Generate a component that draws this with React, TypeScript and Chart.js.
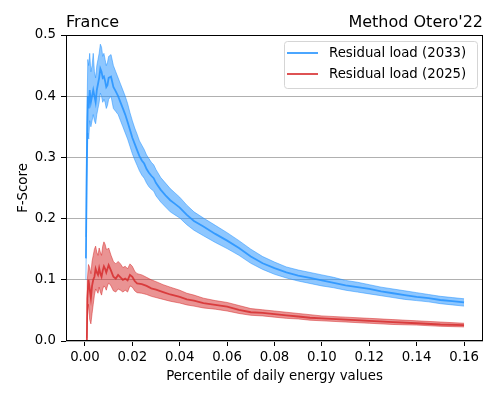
import React, { useEffect, useRef } from "react";
import { Chart, registerables } from "chart.js";

Chart.register(...registerables);

// ---------- data ----------
const blueX = [
  0.0004, 0.0008, 0.0012, 0.0016, 0.002, 0.0025, 0.003, 0.0035, 0.004, 0.0045,
  0.005, 0.0055, 0.006, 0.0065, 0.007, 0.0075, 0.008, 0.0085, 0.009, 0.0095,
  0.01, 0.011, 0.012, 0.013, 0.014, 0.015, 0.016, 0.017, 0.018, 0.019,
  0.02, 0.021, 0.022, 0.023, 0.024, 0.025, 0.026, 0.027, 0.028, 0.029,
  0.03, 0.032, 0.034, 0.036, 0.038, 0.04, 0.043, 0.046, 0.05, 0.055,
  0.06, 0.065, 0.07, 0.075, 0.08, 0.085, 0.09, 0.095, 0.1, 0.105,
  0.11, 0.115, 0.12, 0.125, 0.13, 0.135, 0.14, 0.145, 0.15, 0.155, 0.16,
];
const blueMean = [
  0.135, 0.3, 0.4, 0.38, 0.41, 0.39, 0.4, 0.41, 0.4, 0.39,
  0.41, 0.42, 0.43, 0.445, 0.44, 0.43, 0.432, 0.425, 0.415, 0.418,
  0.43, 0.432, 0.415, 0.408, 0.4, 0.39, 0.38, 0.37, 0.358, 0.345,
  0.332, 0.322, 0.312, 0.302, 0.295, 0.29, 0.281, 0.275, 0.27, 0.266,
  0.258, 0.247, 0.238, 0.23, 0.224, 0.218, 0.206, 0.196, 0.187, 0.175,
  0.164, 0.152, 0.138, 0.127, 0.119, 0.112, 0.107, 0.103, 0.099, 0.095,
  0.091, 0.088, 0.085, 0.081, 0.078, 0.075, 0.072, 0.07, 0.067, 0.065, 0.063,
];
const blueLo = [
  0.1, 0.25, 0.34, 0.33, 0.36, 0.35, 0.36, 0.37, 0.36, 0.355,
  0.37, 0.38, 0.39, 0.405, 0.4, 0.39, 0.395, 0.39, 0.38, 0.385,
  0.395, 0.4, 0.38, 0.375, 0.37, 0.36, 0.35, 0.34, 0.33, 0.318,
  0.306, 0.296, 0.287, 0.278, 0.271, 0.266, 0.258, 0.252, 0.248, 0.245,
  0.237, 0.227, 0.219, 0.211, 0.206, 0.201, 0.19, 0.181, 0.172, 0.161,
  0.151, 0.14, 0.127, 0.117, 0.109, 0.103, 0.098, 0.094, 0.09, 0.087,
  0.083, 0.08, 0.077, 0.074, 0.071, 0.068, 0.066, 0.064, 0.061, 0.059, 0.057,
];
const blueHi = [
  0.17, 0.36, 0.46, 0.45, 0.47, 0.44, 0.45, 0.47, 0.44, 0.43,
  0.45, 0.46, 0.47, 0.485, 0.48, 0.465, 0.47, 0.46, 0.45, 0.455,
  0.465, 0.468, 0.45, 0.44, 0.43, 0.42, 0.41, 0.4, 0.388, 0.373,
  0.36, 0.348, 0.338, 0.327, 0.32, 0.313, 0.304, 0.298, 0.292, 0.288,
  0.28, 0.267, 0.258, 0.249, 0.242, 0.235, 0.222, 0.211, 0.201, 0.189,
  0.177, 0.164, 0.15, 0.138, 0.129, 0.121, 0.116, 0.112, 0.108, 0.104,
  0.099, 0.096, 0.092, 0.088, 0.085, 0.082, 0.079, 0.076, 0.073, 0.071, 0.069,
];

const redX = [
  0.0008, 0.001, 0.0015, 0.002, 0.0025, 0.003, 0.0035, 0.004, 0.0045, 0.005,
  0.0055, 0.006, 0.0065, 0.007, 0.0075, 0.008, 0.0085, 0.009, 0.0095, 0.01,
  0.011, 0.012, 0.013, 0.014, 0.015, 0.016, 0.017, 0.018, 0.019, 0.02,
  0.021, 0.022, 0.024, 0.026, 0.028, 0.03, 0.033, 0.036, 0.04, 0.043,
  0.046, 0.05, 0.055, 0.06, 0.065, 0.07, 0.075, 0.08, 0.085, 0.09,
  0.095, 0.1, 0.11, 0.12, 0.13, 0.14, 0.15, 0.16,
];
const redMean = [
  0.0, 0.07, 0.1, 0.085, 0.07, 0.09, 0.1, 0.105, 0.118, 0.112,
  0.108, 0.119, 0.11, 0.105, 0.115, 0.122, 0.118, 0.112, 0.118, 0.124,
  0.115, 0.105, 0.102, 0.108, 0.104, 0.1, 0.102, 0.099, 0.108, 0.105,
  0.098, 0.094, 0.093, 0.09, 0.086, 0.084, 0.08, 0.076, 0.072, 0.068,
  0.066, 0.062, 0.059, 0.056, 0.051, 0.047, 0.046, 0.044, 0.042, 0.04,
  0.038, 0.037, 0.035, 0.033, 0.031, 0.029, 0.027, 0.026,
];
const redLo = [
  0.0, 0.04, 0.06, 0.035, 0.028, 0.045, 0.06, 0.075, 0.085, 0.082,
  0.078, 0.088, 0.08, 0.075, 0.085, 0.09, 0.088, 0.083, 0.09, 0.095,
  0.09, 0.082, 0.08, 0.085, 0.083, 0.08, 0.083, 0.08, 0.09, 0.088,
  0.082, 0.079, 0.078, 0.076, 0.073, 0.071, 0.068, 0.065, 0.062, 0.059,
  0.057, 0.054, 0.052, 0.049, 0.045, 0.042, 0.041, 0.039, 0.037, 0.036,
  0.034, 0.033, 0.031, 0.029, 0.027, 0.026, 0.024, 0.023,
];
const redHi = [
  0.005, 0.1, 0.125, 0.12, 0.11, 0.13, 0.14, 0.15, 0.155, 0.145,
  0.14, 0.152, 0.145, 0.14, 0.155, 0.162, 0.158, 0.15, 0.15, 0.152,
  0.14, 0.13, 0.126, 0.13, 0.126, 0.12, 0.122, 0.118, 0.126, 0.122,
  0.114, 0.11, 0.108, 0.104, 0.1, 0.097, 0.092, 0.088, 0.083, 0.078,
  0.075, 0.07, 0.066, 0.063, 0.058, 0.053, 0.051, 0.049, 0.047, 0.045,
  0.043, 0.041, 0.039, 0.037, 0.035, 0.033, 0.031, 0.029,
];

const xTicks = [0, 0.02, 0.04, 0.06, 0.08, 0.1, 0.12, 0.14, 0.16];
const yTicks = [0, 0.1, 0.2, 0.3, 0.4, 0.5];
const seriesLabels = ["Residual load (2033)", "Residual load (2025)"];
const titleLeft = "France";
const titleRight = "Method Otero'22";
const xTitle = "Percentile of daily energy values";
const yTitle = "F-Score";

// ---------- styles ----------
const FONT = "'DejaVu Sans', sans-serif";
const BLUE_LINE = "rgba(30,144,255,0.8)";
const BLUE_BAND = "rgba(30,144,255,0.5)";
const RED_LINE = "rgba(214,39,40,0.8)";
const RED_BAND = "rgba(214,39,40,0.5)";

const pts = (xs: number[], ys: number[]) => xs.map((x, i) => ({ x, y: ys[i] }));

const decoPlugin = {
  id: "deco",
  afterDraw(chart: any) {
    const { ctx, chartArea: a } = chart;
    ctx.save();
    // frame (all four spines)
    const l = Math.round(a.left) + 0.5;
    const t = Math.round(a.top) + 0.5;
    const r = Math.round(a.right) - 0.5;
    const b = Math.round(a.bottom) - 0.5;
    ctx.strokeStyle = "#000";
    ctx.lineWidth = 1;
    ctx.strokeRect(l, t, r - l, b - t);

    // titles
    ctx.fillStyle = "#000";
    ctx.font = `16px ${FONT}`;
    ctx.textBaseline = "alphabetic";
    ctx.textAlign = "left";
    ctx.fillText(titleLeft, a.left, 27);
    ctx.textAlign = "right";
    ctx.fillText(titleRight, a.right, 27);

    // axis titles
    ctx.font = `13.3px ${FONT}`;
    ctx.textAlign = "center";
    ctx.fillText(xTitle, (a.left + a.right) / 2, 379.5);
    ctx.save();
    ctx.translate(26.5, (a.top + a.bottom) / 2);
    ctx.rotate(-Math.PI / 2);
    ctx.fillText(yTitle, 0, 0);
    ctx.restore();

    // legend
    const bx = 284.5, by = 41.5, bw = 193, bh = 47, rad = 3;
    ctx.beginPath();
    ctx.moveTo(bx + rad, by);
    ctx.lineTo(bx + bw - rad, by);
    ctx.arcTo(bx + bw, by, bx + bw, by + rad, rad);
    ctx.lineTo(bx + bw, by + bh - rad);
    ctx.arcTo(bx + bw, by + bh, bx + bw - rad, by + bh, rad);
    ctx.lineTo(bx + rad, by + bh);
    ctx.arcTo(bx, by + bh, bx, by + bh - rad, rad);
    ctx.lineTo(bx, by + rad);
    ctx.arcTo(bx, by, bx + rad, by, rad);
    ctx.closePath();
    ctx.fillStyle = "rgba(255,255,255,0.8)";
    ctx.fill();
    ctx.strokeStyle = "#d5d5d5";
    ctx.lineWidth = 1;
    ctx.stroke();

    const colors = [BLUE_LINE, RED_LINE];
    const rows = [53, 74];
    ctx.font = `13.3px ${FONT}`;
    ctx.textAlign = "left";
    ctx.textBaseline = "middle";
    seriesLabels.forEach((lab, i) => {
      ctx.strokeStyle = colors[i];
      ctx.lineWidth = 2;
      ctx.beginPath();
      ctx.moveTo(287, rows[i]);
      ctx.lineTo(318, rows[i]);
      ctx.stroke();
      ctx.fillStyle = "#000";
      ctx.fillText(lab, 329, rows[i] + 0.5);
    });
    ctx.restore();
  },
};

export default function App() {
  const ref = useRef<HTMLCanvasElement | null>(null);

  useEffect(() => {
    if (!ref.current) return;
    const band = (xs: number[], ys: number[], color: string, fill: any) => ({
      data: pts(xs, ys),
      borderColor: color,
      backgroundColor: color,
      borderWidth: 1,
      pointRadius: 0,
      fill,
      tension: 0,
      order: 2,
    });
    const line = (xs: number[], ys: number[], color: string) => ({
      data: pts(xs, ys),
      borderColor: color,
      backgroundColor: color,
      borderWidth: 1.8,
      pointRadius: 0,
      fill: false,
      tension: 0,
      order: 1,
    });

    const chart = new Chart(ref.current, {
      type: "line",
      data: {
        datasets: [
          band(blueX, blueLo, BLUE_BAND, false),
          band(blueX, blueHi, BLUE_BAND, "-1"),
          line(blueX, blueMean, BLUE_LINE),
          band(redX, redLo, RED_BAND, false),
          band(redX, redHi, RED_BAND, "-1"),
          line(redX, redMean, RED_LINE),
        ] as any,
      },
      options: {
        responsive: false,
        animation: false,
        events: [],
        layout: { padding: { left: 0, right: 15, top: 35, bottom: 0 } },
        plugins: {
          legend: { display: false },
          tooltip: { enabled: false },
          title: { display: false },
        },
        scales: {
          x: {
            type: "linear",
            min: -0.008,
            max: 0.168,
            afterFit: (s: any) => {
              s.height = 58;
            },
            afterBuildTicks: (s: any) => {
              s.ticks = xTicks.map((v) => ({ value: v }));
            },
            grid: {
              drawOnChartArea: false,
              drawTicks: true,
              tickLength: 5,
              tickColor: "#000",
              tickWidth: 1,
            },
            border: { display: false },
            ticks: {
              padding: 4,
              maxRotation: 0,
              autoSkip: false,
              color: "#000",
              font: { family: FONT, size: 13.3 },
              callback: (v: any) => Number(v).toFixed(2),
            },
          },
          y: {
            type: "linear",
            min: 0,
            max: 0.5,
            afterFit: (s: any) => {
              s.width = 66;
            },
            afterBuildTicks: (s: any) => {
              s.ticks = yTicks.map((v) => ({ value: v }));
            },
            grid: {
              drawOnChartArea: true,
              color: "#b0b0b0",
              lineWidth: 1,
              drawTicks: true,
              tickLength: 5,
              tickColor: "#000",
              tickWidth: 1,
            },
            border: { display: false },
            ticks: {
              padding: 5,
              autoSkip: false,
              color: "#000",
              font: { family: FONT, size: 13.3 },
              callback: (v: any) => Number(v).toFixed(1),
            },
          },
        },
      },
      plugins: [decoPlugin],
    });
    return () => chart.destroy();
  }, []);

  return (
    <div style={{ position: "absolute", left: 0, top: 0, width: 498, height: 399, background: "#fff" }}>
      <canvas ref={ref} width={498} height={399} style={{ display: "block" }} />
    </div>
  );
}
